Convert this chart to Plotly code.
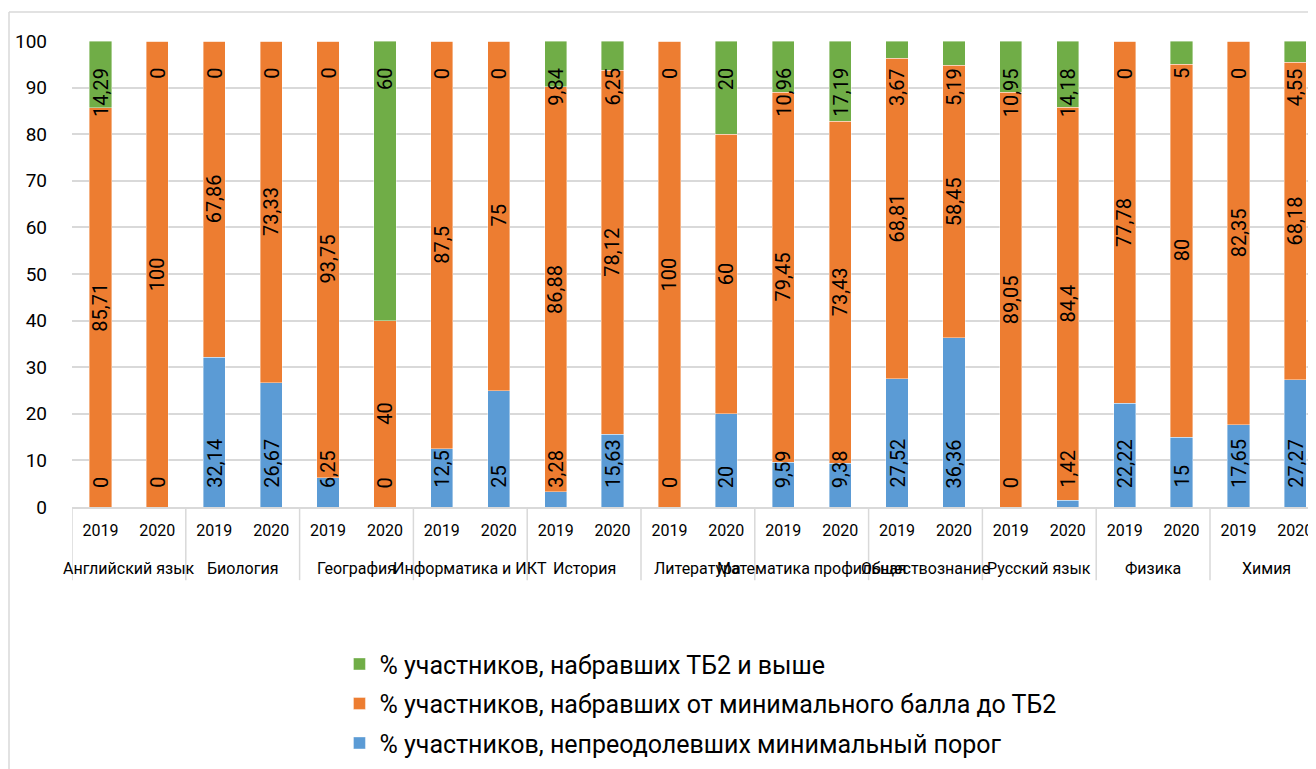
import plotly.graph_objects as go

subjects = ["Английский язык", "Биология", "География", "Информатика и ИКТ", "История",
            "Литература", "Математика профильная", "Обществознание", "Русский язык",
            "Физика", "Химия"]
years = ["2019", "2020"]

below_min = [0, 0, 32.14, 26.67, 6.25, 0, 12.5, 25, 3.28, 15.63, 0, 20,
             9.59, 9.38, 27.52, 36.36, 0, 1.42, 22.22, 15, 17.65, 27.27]
min_to_tb2 = [85.71, 100, 67.86, 73.33, 93.75, 40, 87.5, 75, 86.88, 78.12, 100, 60,
              79.45, 73.43, 68.81, 58.45, 89.05, 84.4, 77.78, 80, 82.35, 68.18]
tb2_up = [14.29, 0, 0, 0, 0, 60, 0, 0, 9.84, 6.25, 0, 20,
          10.96, 17.19, 3.67, 5.19, 10.95, 14.18, 0, 5, 0, 4.55]

names = ["% участников, непреодолевших минимальный порог",
         "% участников, набравших от минимального балла до ТБ2",
         "% участников, набравших ТБ2 и выше"]
colors = ["#5B9BD5", "#ED7D31", "#70AD47"]
ranks = [3, 2, 1]

FONT = "Roboto"
n = len(below_min)
xs = list(range(n))
ticktext = [years[i % 2] for i in range(n)]

fig = go.Figure()
for i, (vals, nm, c) in enumerate(zip([below_min, min_to_tb2, tb2_up], names, colors)):
    fig.add_trace(go.Bar(x=xs, y=vals, name=nm,
                         marker=dict(color=c, line=dict(width=0.8, color="rgba(255,255,255,0.5)")),
                         legendgroup="g%d" % i, legendrank=ranks[i]))

def fmt(v):
    return ("%g" % v).replace(".", ",")

LBL = dict(family=FONT, size=20, color="black")
annotations = []
for i in range(n):
    annotations.append(dict(x=xs[i], y=0, xref="x", yref="y", text=fmt(below_min[i]),
                            textangle=-90, showarrow=False, yanchor="bottom", xanchor="center",
                            yshift=17, font=LBL))
    annotations.append(dict(x=xs[i], y=below_min[i] + min_to_tb2[i] / 2, xref="x", yref="y",
                            text=fmt(min_to_tb2[i]), textangle=-90, showarrow=False,
                            yanchor="middle", xanchor="center", font=LBL))
    annotations.append(dict(x=xs[i], y=below_min[i] + min_to_tb2[i] + tb2_up[i], xref="x", yref="y",
                            text=fmt(tb2_up[i]), textangle=-90, showarrow=False,
                            yanchor="top", xanchor="center", yshift=-25, font=LBL))

for g, s in enumerate(subjects):
    annotations.append(dict(x=2 * g + 0.5, y=-0.133, xref="x", yref="paper", text=s,
                            showarrow=False, yanchor="middle", xanchor="center",
                            font=dict(family=FONT, size=16, color="black")))

plot_w = 1244
plot_h = 466
shapes = []
for g in range(len(subjects) + 1):
    shapes.append(dict(type="line", xref="x", yref="paper", x0=2 * g - 0.5, x1=2 * g - 0.5,
                       y0=0, y1=-0.157, line=dict(color="#d9d9d9", width=1.5)))
# outer chart border (top and left edges visible in the frame)
bx = -63.0 / plot_w
by = (plot_h + 29.0) / plot_h
shapes.append(dict(type="line", xref="paper", yref="paper", x0=bx, x1=1.05, y0=by, y1=by,
                   line=dict(color="#d9d9d9", width=1.5)))
shapes.append(dict(type="line", xref="paper", yref="paper", x0=bx, x1=bx, y0=by, y1=-0.6,
                   line=dict(color="#d9d9d9", width=1.5)))

bar_px = 56.9
fig.update_layout(
    width=1308, height=761,
    margin=dict(l=64, r=0, t=33, b=761 - 33 - plot_h),
    barmode="stack", bargap=0.61,
    plot_bgcolor="white", paper_bgcolor="white",
    font=dict(family=FONT, color="black"),
    xaxis=dict(range=[-0.5, -0.5 + plot_w / bar_px], tickvals=xs, ticktext=ticktext,
               tickfont=dict(size=16), showgrid=False, showline=True, linecolor="#d9d9d9",
               linewidth=1.5, ticks="", ticklabelstandoff=8, zeroline=False),
    yaxis=dict(range=[0, 100], dtick=10, showgrid=True, gridcolor="#d9d9d9", gridwidth=1.5,
               tickfont=dict(size=19), ticks="", ticklabelstandoff=24, zeroline=False,
               showline=False),
    legend=dict(orientation="v", x=0.215, xanchor="left", y=-0.288, yanchor="top",
                traceorder="grouped", tracegroupgap=4,
                font=dict(size=25, family=FONT, color="black")),
    annotations=annotations,
    shapes=shapes,
)

fig.write_html("out.html")
